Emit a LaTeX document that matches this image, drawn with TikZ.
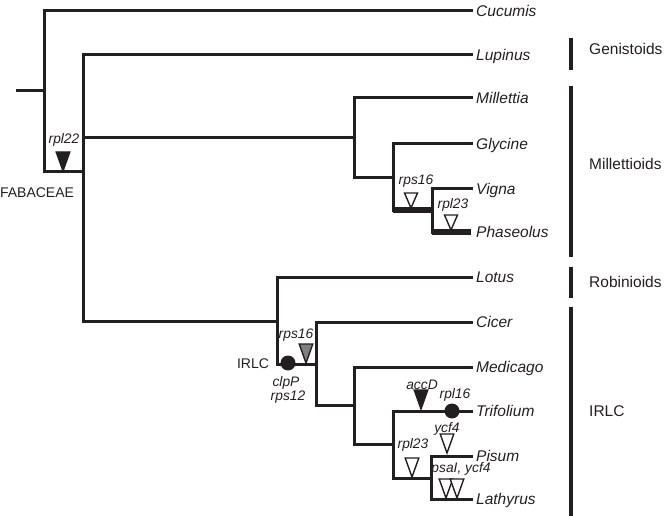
\documentclass[tikz,border=0pt]{standalone}
\usepackage{fontspec}
\setmainfont{Liberation Sans}
\definecolor{ink}{RGB}{35,31,32}
\definecolor{midgrey}{RGB}{128,128,128}
\begin{document}
\begin{tikzpicture}[x=1pt,y=-1pt,
  br/.style={draw=ink,line width=3pt,line cap=rect,line join=miter},
  thickbr/.style={draw=ink,line width=5.6pt,line cap=butt},
  cladebar/.style={draw=ink,line width=4.4pt},
  tip/.style={anchor=west,inner xsep=5pt,inner ysep=0pt,text height=11pt,text depth=0pt,
    font=\fontsize{15.5}{18}\selectfont\itshape,text=ink},
  clade/.style={anchor=west,inner sep=0pt,text height=11pt,text depth=0pt,
    font=\fontsize{15.5}{18}\selectfont,text=ink},
  gene/.style={anchor=base,inner sep=0pt,font=\fontsize{13.8}{16}\selectfont\itshape,text=ink},
  grp/.style={anchor=base,inner sep=0pt,font=\fontsize{14}{16}\selectfont,text=ink},
  dot/.style={circle,fill=ink,inner sep=0pt,minimum size=15pt},
  downtri/.pic={\path[draw=ink,line width=1.4pt,line join=miter,pic actions]
     (0,0) -- (-6.5,-15) -- (6.5,-15) -- cycle;},
  bigtri/.pic={\path[draw=ink,line width=1.4pt,line join=miter,pic actions]
     (0,0) -- (-6.8,-19) -- (6.8,-19) -- cycle;}
]
\useasboundingbox (0,0) rectangle (667,516);

% internal nodes
\coordinate (stub) at (17,91);
\coordinate (r) at (44,91);
\coordinate (fab) at (83,172);
\coordinate (mil) at (354,138);
\coordinate (gv) at (393,178);
\coordinate (gvb) at (393,210);
\coordinate (vp) at (432,210);
\coordinate (vpb) at (432,232);
\coordinate (low) at (277,321);
\coordinate (irlc) at (316,364);
\coordinate (c2) at (354,405);
\coordinate (c3) at (393,444);
\coordinate (pl) at (431,478);

% tips
\node[tip] (cucumis) at (471,11) {Cucumis};
\node[tip] (lupinus) at (471,55) {Lupinus};
\node[tip] (millettia) at (471,98) {Millettia};
\node[tip] (glycine) at (471,144) {Glycine};
\node[tip] (vigna) at (471,189) {Vigna};
\node[tip] (phaseolus) at (471,232) {Phaseolus};
\node[tip] (lotus) at (471,277) {Lotus};
\node[tip] (cicer) at (471,322) {Cicer};
\node[tip] (medicago) at (471,367) {Medicago};
\node[tip] (trifolium) at (471,411) {Trifolium};
\node[tip] (pisum) at (471,456) {Pisum};
\node[tip] (lathyrus) at (471,499) {Lathyrus};

% branches
\draw[br] (stub) -- (r);
\draw[br] (r) |- (cucumis.west);
\draw[br] (r) |- (fab);
\draw[br] (fab) |- (lupinus.west);
\draw[br] (fab) |- (mil);
\draw[br] (fab) |- (low);
\draw[br] (mil) |- (millettia.west);
\draw[br] (mil) |- (gv);
\draw[br] (gv) |- (glycine.west);
\draw[br] (gv) -- (gvb);
\draw[thickbr] (gvb) -- (vp);
\draw[br] (vp) |- (vigna.west);
\draw[br] (vp) -- (vpb);
\draw[thickbr] (vpb) -- (phaseolus.west);
\draw[br] (low) |- (lotus.west);
\draw[br] (low) |- (irlc);
\draw[br] (irlc) |- (cicer.west);
\draw[br] (irlc) |- (c2);
\draw[br] (c2) |- (medicago.west);
\draw[br] (c2) |- (c3);
\draw[br] (c3) |- (trifolium.west);
\draw[br] (c3) |- (pl);
\draw[br] (pl) |- (pisum.west);
\draw[br] (pl) |- (lathyrus.west);

% markers
\pic[fill=ink] (t-rpl22) at (63,171) {bigtri};
\node[gene] (l-rpl22) at (64,144) {rpl22};
\node[grp] (l-fab) at (37,197) {FABACEAE};

\pic[fill=white] (t-rps16a) at (411,208) {downtri};
\node[gene] (l-rps16a) at (416,185) {rps16};
\pic[fill=white] (t-rpl23a) at (451,230) {downtri};
\node[gene] (l-rpl23a) at (453,208) {rpl23};

\node[grp] (l-irlc) at (253,368) {IRLC};
\node[dot] (d-clpp) at (288,363) {};
\node[gene] (l-clpp) at (286,386) {clpP};
\node[gene] (l-rps12) at (288,400) {rps12};
\pic[fill=midgrey] (t-rps16b) at (306,363) {bigtri};
\node[gene] (l-rps16b) at (296,338) {rps16};

\pic[fill=ink] (t-accd) at (421,409) {bigtri};
\node[gene] (l-accd) at (422,389) {accD};
\node[dot] (d-rpl16) at (452,411) {};
\node[gene] (l-rpl16) at (455,398) {rpl16};

\pic[fill=white] (t-ycf4) at (447,453) {bigtri};
\node[gene] (l-ycf4) at (447,432) {ycf4};
\pic[fill=white] (t-rpl23b) at (412,477) {bigtri};
\node[gene] (l-rpl23b) at (413,448) {rpl23};
\pic[fill=white] (t-psai) at (446,498) {bigtri};
\pic[fill=white] (t-ycf4b) at (457,498) {bigtri};
\node[gene] (l-psai) at (461,472) {psaI, ycf4};

% clade bars
\draw[cladebar] (571,38) -- (571,70);
\node[clade] (genistoids) at (589,49) {Genistoids};
\draw[cladebar] (571,86) -- (571,257);
\node[clade] (millettioids) at (589,164) {Millettioids};
\draw[cladebar] (571,267) -- (571,298);
\node[clade] (robinioids) at (589,282) {Robinioids};
\draw[cladebar] (571,307) -- (571,516);
\node[clade] (irlcclade) at (589,411) {IRLC};
\end{tikzpicture}
\end{document}
